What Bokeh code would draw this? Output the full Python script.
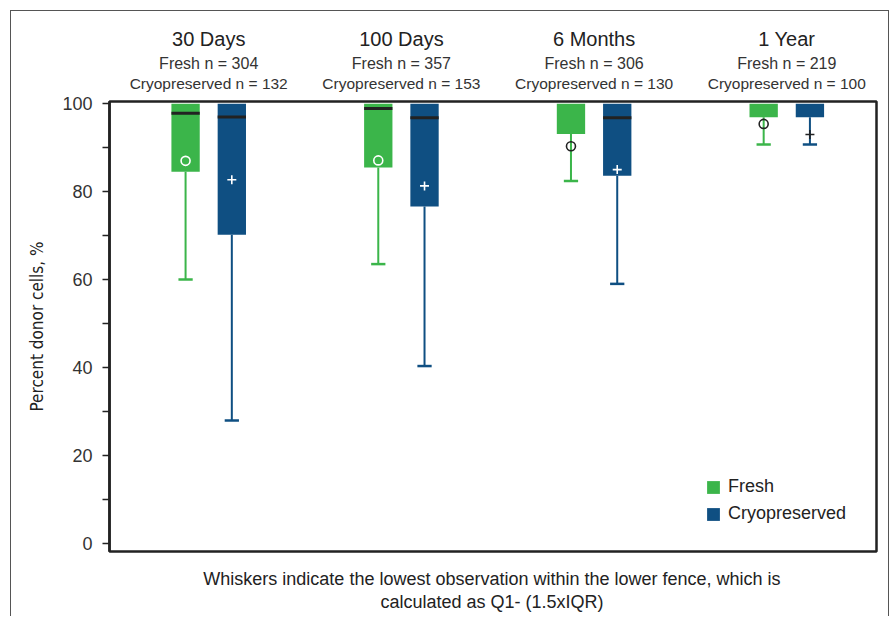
from bokeh.plotting import figure
from bokeh.models import (Range1d, Legend, LegendItem, FixedTicker, ColumnDataSource,
                          LinearAxis)
from bokeh.embed import file_html
from bokeh.resources import INLINE

# ---------------- data ----------------
groups = ["30 Days", "100 Days", "6 Months", "1 Year"]
fresh_n = [304, 357, 306, 219]
cryo_n = [132, 153, 130, 100]

fresh_q3 = [100, 100, 100, 100]
fresh_median = [97.8, 98.9, float("nan"), float("nan")]   # at 100 -> hidden
fresh_q1 = [84.5, 85.5, 93.1, 96.9]
fresh_mean = [87.0, 87.1, 90.3, 95.4]
fresh_low = [60.0, 63.5, 82.4, 90.7]

cryo_q3 = [100, 100, 100, 100]
cryo_median = [97.0, 96.8, 96.8, float("nan")]
cryo_q1 = [70.2, 76.6, 83.6, 96.9]
cryo_mean = [82.7, 81.3, 85.0, 93.0]
cryo_low = [27.9, 40.3, 59.0, 90.7]

y_ticks = [0, 20, 40, 60, 80, 100]
y_minor = [10, 30, 50, 70, 90]

foot_lines = ["Whiskers indicate the lowest observation within the lower fence, which is",
              "calculated as Q1- (1.5xIQR)"]

GREEN = "#3bb54a"
BLUE = "#0f4f82"
DARK = "#222222"
TEXT = "#333333"
FONT = "Liberation Sans"

# ---------------- layout ----------------
X0, X1 = -0.5148, 3.4655
Y0, Y1 = -1.9, 100.5
OFF = 0.12
BW = 0.147
CAPW = 0.074
FOOT_X = 1.47   # horizontal centre of the footnote

p = figure(width=879, height=606, output_backend="svg", toolbar_location=None,
           x_range=Range1d(X0, X1), y_range=Range1d(Y0, Y1),
           x_axis_location=None, y_axis_location="left", title=None,
           min_border_left=98, min_border_right=14, min_border_top=90, min_border_bottom=66,
           styles={"margin-left": "10px", "margin-top": "10px",
                   "border-left": "1px solid #555", "border-top": "1px solid #555",
                   "border-right": "1px solid #555"})
p.grid.visible = False
p.outline_line_color = DARK
p.outline_line_width = 2.5
p.background_fill_color = "white"
p.border_fill_color = "white"

ax = p.yaxis[0]
ax.ticker = FixedTicker(ticks=y_ticks, minor_ticks=y_minor)
ax.axis_line_color = DARK
ax.axis_line_width = 2.5
ax.major_tick_line_color = DARK
ax.minor_tick_line_color = DARK
ax.major_tick_line_width = 1.5
ax.minor_tick_line_width = 1.5
ax.major_tick_in = 0
ax.minor_tick_in = 0
ax.major_tick_out = 7
ax.minor_tick_out = 7
ax.major_label_standoff = 10
ax.major_label_text_font = FONT
ax.major_label_text_font_size = "18px"
ax.major_label_text_color = TEXT
ax.axis_label = "Percent donor cells, %"
ax.axis_label_text_font = "DejaVu Sans Condensed"
ax.axis_label_text_font_style = "normal"
ax.axis_label_text_font_size = "17px"
ax.axis_label_text_color = DARK
ax.axis_label_standoff = 12


def draw_series(offset, q1, q3, med, mean, low, color, marker):
    xs = [i + offset for i in range(len(groups))]
    src = ColumnDataSource(dict(x=xs, q1=q1, q3=q3, med=med, mean=mean, low=low,
                                left=[x - BW / 2 for x in xs], right=[x + BW / 2 for x in xs],
                                cl=[x - CAPW / 2 for x in xs], cr=[x + CAPW / 2 for x in xs],
                                mc=["white" if m >= a else DARK for m, a in zip(mean, q1)]))
    p.segment(x0="x", y0="q1", x1="x", y1="low", source=src, line_color=color, line_width=2)
    p.segment(x0="cl", y0="low", x1="cr", y1="low", source=src, line_color=color, line_width=2.5)
    r = p.vbar(x="x", width=BW, bottom="q1", top="q3", source=src, fill_color=color, line_color=None)
    p.segment(x0="left", y0="med", x1="right", y1="med", source=src, line_color=DARK, line_width=3)
    p.scatter(x="x", y="mean", source=src, marker=marker, size=9, fill_color=None,
              line_color="mc", line_width=1.6)
    return r


r_f = draw_series(-OFF, fresh_q1, fresh_q3, fresh_median, fresh_mean, fresh_low, GREEN, "circle")
r_c = draw_series(OFF, cryo_q1, cryo_q3, cryo_median, cryo_mean, cryo_low, BLUE, "cross")

legend = Legend(items=[LegendItem(label="Fresh", renderers=[r_f]),
                       LegendItem(label="Cryopreserved", renderers=[r_c])],
                location=(596, 27),
                glyph_width=16, glyph_height=16, label_height=16, spacing=6,
                label_standoff=7, padding=0, margin=0,
                border_line_alpha=0, background_fill_alpha=0,
                label_text_font=FONT, label_text_font_size="18px",
                label_text_color=DARK)
p.add_layout(legend)


# text rows outside the frame, drawn as label-only axes (first added = closest to frame)
def text_axis(place, ticks, labels, size, standoff, color):
    a = LinearAxis(ticker=FixedTicker(ticks=ticks),
                   major_label_overrides={t: s for t, s in zip(ticks, labels)},
                   axis_line_color=None, major_tick_line_color=None, minor_tick_line_color=None,
                   major_tick_in=0, major_tick_out=0, minor_tick_in=0, minor_tick_out=0,
                   major_label_standoff=standoff, major_label_text_font=FONT,
                   major_label_text_font_size=size, major_label_text_color=color)
    p.add_layout(a, place)


idx = list(range(len(groups)))
text_axis("above", idx, [f"Cryopreserved n = {n}" for n in cryo_n], "15.5px", 10, TEXT)
text_axis("above", idx, [f"Fresh n = {n}" for n in fresh_n], "16px", 0, TEXT)
text_axis("above", idx, groups, "20px", 2, DARK)

text_axis("below", [FOOT_X], [foot_lines[0]], "18px", 17, DARK)
text_axis("below", [FOOT_X], [foot_lines[1]], "18px", 0, DARK)

open("out.html", "w").write(file_html(p, INLINE))
